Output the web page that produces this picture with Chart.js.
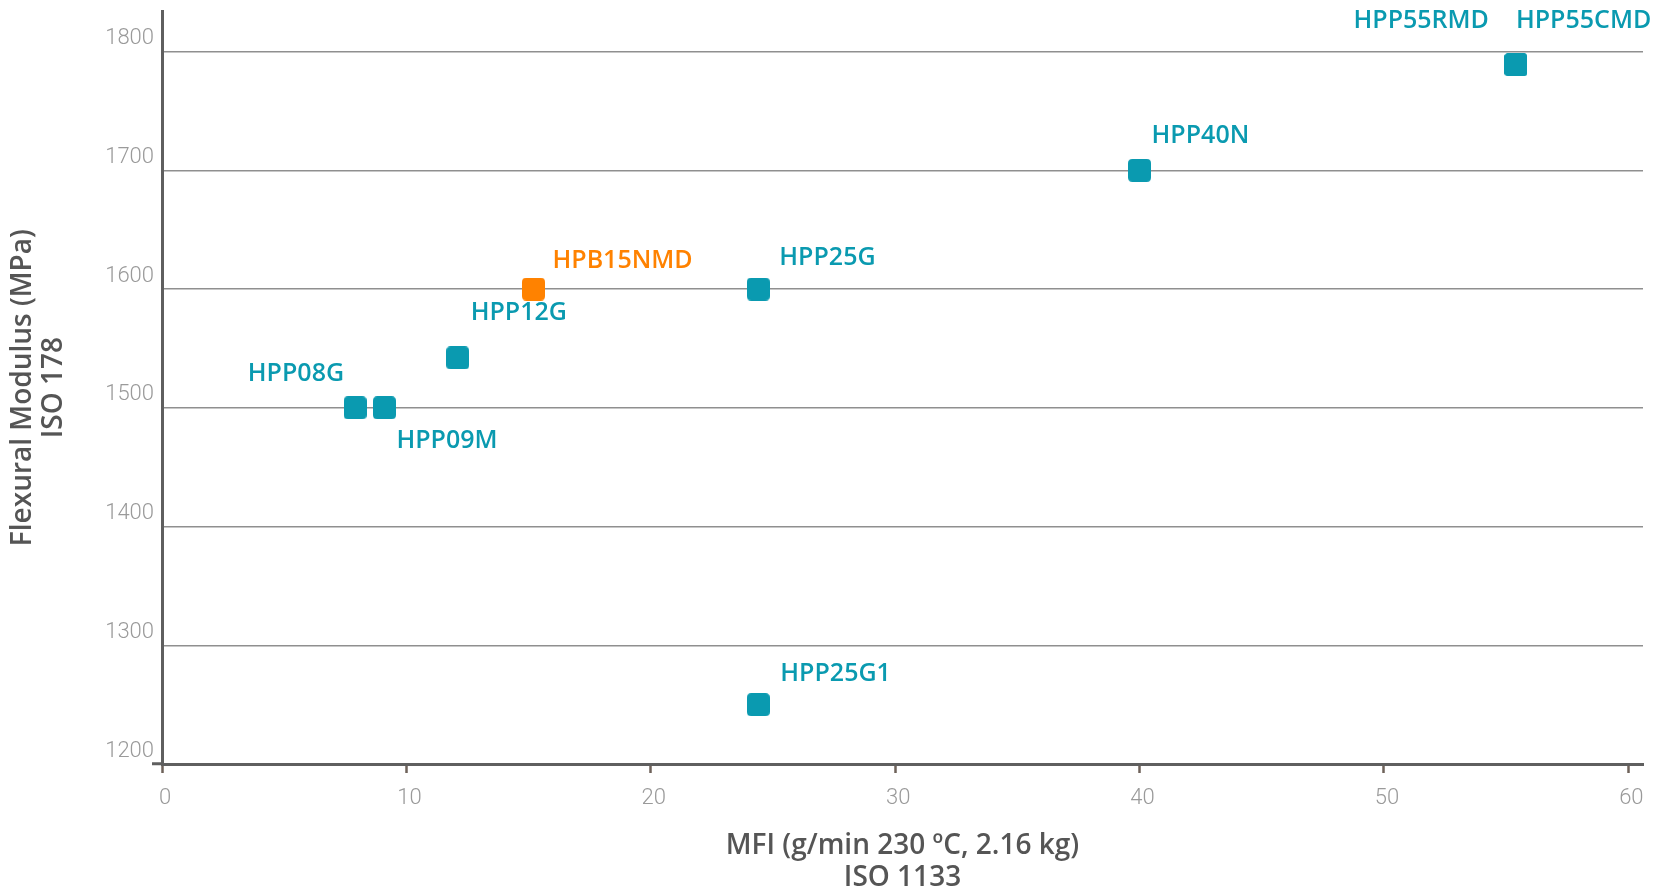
<!DOCTYPE html>
<html>
<head>
<meta charset="utf-8">
<script src="https://cdn.jsdelivr.net/npm/chart.js@4/dist/chart.umd.min.js"></script>
<style>
  html, body { margin: 0; padding: 0; background: #ffffff; }
  #wrap { width: 1654px; height: 895px; position: relative; }
</style>
</head>
<body>
<div id="wrap"><canvas id="c" width="1654" height="895"></canvas></div>
<script>
// ---- data ----
const productNames = ['HPP08G', 'HPP09M', 'HPP12G', 'HPB15NMD', 'HPP25G', 'HPP25G1', 'HPP40N', 'HPP55RMD', 'HPP55CMD'];
const mfiValues = [7.9, 9.1, 12.1, 15.2, 24.4, 24.4, 40, 55.4, 55.4];
const modulusValues = [1500, 1500, 1542, 1600, 1600, 1250, 1700, 1789, 1789];
const productGroup = ['HPP', 'HPP', 'HPP', 'HPB', 'HPP', 'HPP', 'HPP', 'HPP', 'HPP'];
const xTickValues = [0, 10, 20, 30, 40, 50, 60];
const yTickValues = [1200, 1300, 1400, 1500, 1600, 1700, 1800];

// ---- styles ----
const TEAL = '#0a9ab0';
const ORANGE = '#ff8200';
const LABEL_FONT = '600 25px "Open Sans"';
// label placement relative to its point: [textAlign, dx, dy]
const labelPlacement = {
  'HPP08G': ['right', -11, -34],
  'HPP09M': ['left', 12, 33],
  'HPP12G': ['left', 13, -45],
  'HPB15NMD': ['left', 19, -28],
  'HPP25G': ['left', 21, -31],
  'HPP25G1': ['left', 22, -31],
  'HPP40N': ['left', 12, -34],
  'HPP55RMD': ['right', -27, -43.5],
  'HPP55CMD': ['left', 0, -43.5]
};

function squareMarker(color) {
  const s = 23, r = 4.5;
  const cv = document.createElement('canvas');
  cv.width = s; cv.height = s;
  const g = cv.getContext('2d');
  g.fillStyle = color;
  g.beginPath();
  g.moveTo(r, 0); g.lineTo(s - r, 0); g.quadraticCurveTo(s, 0, s, r);
  g.lineTo(s, s - r); g.quadraticCurveTo(s, s, s - r, s);
  g.lineTo(r, s); g.quadraticCurveTo(0, s, 0, s - r);
  g.lineTo(0, r); g.quadraticCurveTo(0, 0, r, 0);
  g.closePath(); g.fill();
  return cv;
}
const tealMarker = squareMarker(TEAL);
const orangeMarker = squareMarker(ORANGE);

const points = mfiValues.map((x, i) => ({ x: x, y: modulusValues[i], name: productNames[i], group: productGroup[i] }));
const colorOf = p => p.group === 'HPB' ? ORANGE : TEAL;

const labelPlugin = {
  id: 'pointLabels',
  afterDatasetsDraw(chart) {
    const ctx = chart.ctx;
    const meta = chart.getDatasetMeta(0);
    ctx.save();
    ctx.font = LABEL_FONT;
    ctx.textBaseline = 'middle';
    meta.data.forEach((el, i) => {
      const p = points[i];
      const pl = labelPlacement[p.name] || ['left', 14, -30];
      ctx.textAlign = pl[0];
      ctx.fillStyle = colorOf(p);
      ctx.fillText(p.name, el.x + pl[1], el.y + pl[2]);
    });
    ctx.restore();
  }
};

const keepTicks = (list) => (scale) => {
  scale.ticks = list.map(v => ({ value: v }));
};

new Chart(document.getElementById('c'), {
  type: 'scatter',
  data: {
    datasets: [{
      data: points,
      pointStyle: points.map(p => p.group === 'HPB' ? orangeMarker : tealMarker),
      pointRadius: 11,
      pointHoverRadius: 11,
      backgroundColor: points.map(colorOf),
      borderWidth: 0
    }]
  },
  options: {
    responsive: false,
    animation: false,
    events: [],
    layout: { padding: { top: 8, right: 11, left: 0, bottom: 0 } },
    plugins: {
      legend: { display: false },
      tooltip: { enabled: false }
    },
    scales: {
      x: {
        type: 'linear',
        min: 0,
        max: 60.6,
        afterBuildTicks: keepTicks(xTickValues),
        afterFit: (s) => { s.height = 131; },
        border: { display: true, color: '#5f5f5f', width: 3 },
        grid: {
          display: true,
          drawOnChartArea: false,
          drawTicks: true,
          tickLength: 9,
          tickColor: '#6e625a',
          tickWidth: 2.5
        },
        ticks: {
          font: { family: 'Roboto', weight: '300', size: 22 },
          color: '#9a9a9a',
          padding: 12,
          labelOffset: 3,
          maxRotation: 0,
          callback: (v) => String(v)
        },
        title: {
          display: true,
          text: ['MFI (g/min 230 ºC, 2.16 kg)', 'ISO 1133'],
          color: '#555555',
          font: { family: 'Open Sans', weight: '600', size: 28, lineHeight: 1.13 },
          padding: { top: 0, bottom: 1.6 }
        }
      },
      y: {
        type: 'linear',
        min: 1200,
        max: 1834,
        afterBuildTicks: keepTicks(yTickValues),
        afterFit: (s) => { s.width = 162; },
        border: { display: true, color: '#5f5f5f', width: 3 },
        grid: {
          display: true,
          color: '#8f8f8f',
          lineWidth: 1.5,
          drawTicks: true,
          tickLength: 10,
          tickWidth: 3,
          tickColor: (c) => (c.tick && c.tick.value === 1200) ? '#5f5f5f' : 'rgba(0,0,0,0)'
        },
        ticks: {
          font: { family: 'Roboto', weight: '300', size: 22 },
          color: '#9a9a9a',
          padding: -2,
          labelOffset: -13,
          callback: (v) => String(v)
        },
        title: {
          display: true,
          text: ['Flexural Modulus (MPa)', 'ISO 178'],
          color: '#555555',
          font: { family: 'Open Sans', weight: '600', size: 28, lineHeight: 1.13 },
          padding: { top: 7, bottom: 0 }
        }
      }
    }
  },
  plugins: [labelPlugin]
});
</script>
</body>
</html>
